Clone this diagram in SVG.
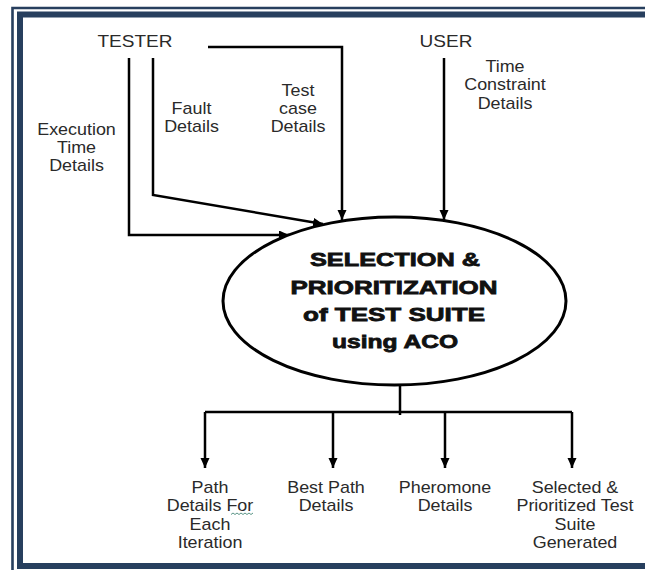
<svg xmlns="http://www.w3.org/2000/svg" width="645" height="570" viewBox="0 0 645 570">
<style>
.frame{fill:none;stroke:#273f5e}
.ln{fill:none;stroke:#000;stroke-width:2.5}
.lbl{font-family:"Liberation Sans",Arial,sans-serif;font-size:16px;fill:#2a2a2a;text-anchor:middle}
.big{font-size:17px}
.main{font-family:"Liberation Sans",Arial,sans-serif;font-size:19px;font-weight:bold;fill:#111;stroke:#111;stroke-width:0.8;text-anchor:middle}
</style>
<defs>
<marker id="arr" markerUnits="userSpaceOnUse" markerWidth="12" markerHeight="10" refX="10" refY="4.5" orient="auto">
<path d="M0,0 L10,4.5 L0,9 Z" fill="#000"/>
</marker>
</defs>
<rect width="645" height="570" fill="#fff"/>
<g id="frame">
<path class="frame" d="M12.5,570 V8 H645" stroke-width="2.6"/>
<path class="frame" d="M645,566 H20 V14.5 H645" stroke-width="6"/>
</g>
<g id="connectors">
<path class="ln" d="M129,58 V235 H289" marker-end="url(#arr)"/>
<path class="ln" d="M153,58 V195 L323,224" marker-end="url(#arr)"/>
<path class="ln" d="M208,47 H342 V220" marker-end="url(#arr)"/>
<path class="ln" d="M444,58 V220" marker-end="url(#arr)"/>
<path class="ln" d="M400,385 V415"/>
<path class="ln" d="M205,412 H572"/>
<path class="ln" d="M205,412 V468" marker-end="url(#arr)"/>
<path class="ln" d="M333,412 V468" marker-end="url(#arr)"/>
<path class="ln" d="M445,412 V468" marker-end="url(#arr)"/>
<path class="ln" d="M572,412 V468" marker-end="url(#arr)"/>
</g>
<g id="tester">
<g transform="translate(135,0) scale(1.12,1)"><text class="lbl big" x="0" y="47">TESTER</text></g>
</g>
<g id="user">
<g transform="translate(446,0) scale(1.12,1)"><text class="lbl big" x="0" y="47">USER</text></g>
</g>
<g id="label-execution">
<g transform="translate(76.5,0) scale(1.12,1)"><text class="lbl"><tspan x="0" y="135">Execution</tspan><tspan x="0" y="153">Time</tspan><tspan x="0" y="171.5">Details</tspan></text></g>
</g>
<g id="label-fault">
<g transform="translate(191.5,0) scale(1.12,1)"><text class="lbl"><tspan x="0" y="114">Fault</tspan><tspan x="0" y="132">Details</tspan></text></g>
</g>
<g id="label-testcase">
<g transform="translate(298,0) scale(1.12,1)"><text class="lbl"><tspan x="0" y="96">Test</tspan><tspan x="0" y="114">case</tspan><tspan x="0" y="132">Details</tspan></text></g>
</g>
<g id="label-time">
<g transform="translate(505,0) scale(1.12,1)"><text class="lbl"><tspan x="0" y="72">Time</tspan><tspan x="0" y="90.5">Constraint</tspan><tspan x="0" y="109">Details</tspan></text></g>
</g>
<g id="process">
<ellipse cx="394.5" cy="301" rx="171.5" ry="84" fill="#fff" stroke="#000" stroke-width="3"/>
<text class="main" x="395" y="266" textLength="170" lengthAdjust="spacingAndGlyphs">SELECTION &amp;</text>
<text class="main" x="394" y="294" textLength="207" lengthAdjust="spacingAndGlyphs">PRIORITIZATION</text>
<text class="main" x="394" y="321" textLength="182" lengthAdjust="spacingAndGlyphs">of TEST SUITE</text>
<text class="main" x="395" y="348" textLength="126" lengthAdjust="spacingAndGlyphs">using ACO</text>
</g>
<g id="out-path">
<g transform="translate(210,0) scale(1.12,1)"><text class="lbl"><tspan x="0" y="493">Path</tspan><tspan x="0" y="511.5">Details For</tspan><tspan x="0" y="530">Each</tspan><tspan x="0" y="548">Iteration</tspan></text></g>
<path d="M231,514.5 l2,-1.5 l2,1.5 l2,-1.5 l2,1.5 l2,-1.5 l2,1.5 l2,-1.5 l2,1.5 l2,-1.5 l2,1.5 l2,-1.5" fill="none" stroke="#4a8a7a" stroke-width="0.9"/>
</g>
<g id="out-best">
<g transform="translate(326,0) scale(1.12,1)"><text class="lbl"><tspan x="0" y="493">Best Path</tspan><tspan x="0" y="511.5">Details</tspan></text></g>
</g>
<g id="out-pheromone">
<g transform="translate(445,0) scale(1.12,1)"><text class="lbl"><tspan x="0" y="493">Pheromone</tspan><tspan x="0" y="511.5">Details</tspan></text></g>
</g>
<g id="out-selected">
<g transform="translate(575,0) scale(1.12,1)"><text class="lbl"><tspan x="0" y="493">Selected &amp;</tspan><tspan x="0" y="511.5">Prioritized Test</tspan><tspan x="0" y="530">Suite</tspan><tspan x="0" y="548">Generated</tspan></text></g>
</g>
</svg>
